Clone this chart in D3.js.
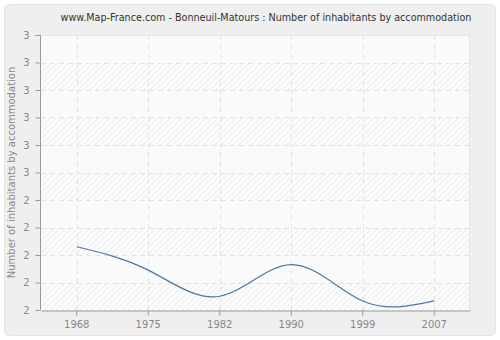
<!DOCTYPE html>
<html>
<head>
<meta charset="utf-8">
<script src="https://cdn.jsdelivr.net/npm/d3@7"></script>
<style>
  body { margin: 0; background: #fff; }
  svg text { font-family: "DejaVu Sans", Verdana, sans-serif; }
</style>
</head>
<body>
<svg id="chart" width="500" height="340"></svg>
<script>
const years = ["1968", "1975", "1982", "1990", "1999", "2007"];
const inhabitants = [2.23, 2.145, 2.05, 2.165, 2.033, 2.033];
const yTicks = [2.0, 2.1, 2.2, 2.3, 2.4, 2.5, 2.6, 2.7, 2.8, 2.9, 3.0];

const svg = d3.select("#chart");
const margin = {left: 41, right: 30, top: 35, bottom: 30};
const width = 500, height = 340;

const x = d3.scaleBand()
  .domain(years)
  .range([margin.left, width - margin.right]);
const y = d3.scaleLinear()
  .domain([2, 3])
  .range([height - margin.bottom, margin.top]);

// panel
svg.append("rect")
  .attr("x", 4.5).attr("y", 4.5)
  .attr("width", 491).attr("height", 331)
  .attr("rx", 5)
  .attr("fill", "#efefef")
  .attr("stroke", "#e4e4e4");

// hatch pattern
const defs = svg.append("defs");
const pat = defs.append("pattern")
  .attr("id", "hatch")
  .attr("patternUnits", "userSpaceOnUse")
  .attr("width", 6).attr("height", 6);
pat.append("rect").attr("width", 6).attr("height", 6).attr("fill", "#fbfbfb");
pat.append("path")
  .attr("d", "M0,6 L6,0 M-1,1 L1,-1 M5,7 L7,5")
  .attr("stroke", "#eaeaea")
  .attr("stroke-width", 1);

svg.append("rect")
  .attr("x", margin.left).attr("y", margin.top)
  .attr("width", width - margin.left - margin.right)
  .attr("height", height - margin.top - margin.bottom)
  .attr("fill", "#fafafa");

// alternating hatched bands
svg.append("g")
  .selectAll("rect")
  .data(yTicks.slice(0, -1).filter((d, i) => i % 2 === 0))
  .join("rect")
  .attr("x", margin.left)
  .attr("width", width - margin.left - margin.right)
  .attr("y", d => y(d + 0.1))
  .attr("height", d => y(d) - y(d + 0.1))
  .attr("fill", "url(#hatch)");

// grid lines
svg.append("g")
  .selectAll("line")
  .data(yTicks.slice(1))
  .join("line")
  .attr("x1", margin.left).attr("x2", width - margin.right)
  .attr("y1", d => Math.round(y(d)) + 0.5).attr("y2", d => Math.round(y(d)) + 0.5)
  .attr("stroke", "#e2e2e2")
  .attr("stroke-dasharray", "5,4");

svg.append("g")
  .selectAll("line")
  .data(years)
  .join("line")
  .attr("x1", d => Math.round(x(d) + x.bandwidth() / 2) + 0.5)
  .attr("x2", d => Math.round(x(d) + x.bandwidth() / 2) + 0.5)
  .attr("y1", margin.top).attr("y2", height - margin.bottom)
  .attr("stroke", "#e2e2e2")
  .attr("stroke-dasharray", "5,4");

// right / top border of plot
svg.append("path")
  .attr("d", `M${margin.left},${margin.top + 0.5}H${width - margin.right - 0.5}V${height - margin.bottom}`)
  .attr("fill", "none")
  .attr("stroke", "#e6e6e6");

// axes
const yAxis = d3.axisLeft(y)
  .tickValues(yTicks)
  .tickFormat(d3.format(".0f"))
  .tickSize(5)
  .tickPadding(6);
const gy = svg.append("g")
  .attr("transform", `translate(${margin.left - 0.5},0)`)
  .call(yAxis);

const xAxis = d3.axisBottom(x)
  .tickSize(5)
  .tickPadding(5)
  .tickSizeOuter(0);
const gx = svg.append("g")
  .attr("transform", `translate(0,${height - margin.bottom + 0.5})`)
  .call(xAxis);

[gy, gx].forEach(g => {
  g.select(".domain").attr("stroke", "#999");
  g.selectAll(".tick line").attr("stroke", "#999");
  g.selectAll(".tick text").attr("fill", "#888").attr("font-size", 10)
    .attr("font-family", "DejaVu Sans, sans-serif");
});
gy.select(".domain").attr("d", `M-5,${margin.top + 0.5}H0V${height - margin.bottom}`);

// line
const line = d3.line()
  .x((d, i) => x(years[i]) + x.bandwidth() / 2)
  .y(d => y(d))
  .curve(d3.curveNatural);

svg.append("path")
  .datum(inhabitants)
  .attr("d", line)
  .attr("fill", "none")
  .attr("stroke", "#4a76a8")
  .attr("stroke-width", 1.2);

// title
svg.append("text")
  .attr("x", 266).attr("y", 21)
  .attr("text-anchor", "middle")
  .attr("font-size", 9.6)
  .attr("fill", "#333")
  .text("www.Map-France.com - Bonneuil-Matours : Number of inhabitants by accommodation");

svg.append("text")
  .attr("transform", `translate(15,${(margin.top + height - margin.bottom) / 2}) rotate(-90)`)
  .attr("text-anchor", "middle")
  .attr("font-size", 10)
  .attr("fill", "#888")
  .text("Number of inhabitants by accommodation");
</script>
</body>
</html>
